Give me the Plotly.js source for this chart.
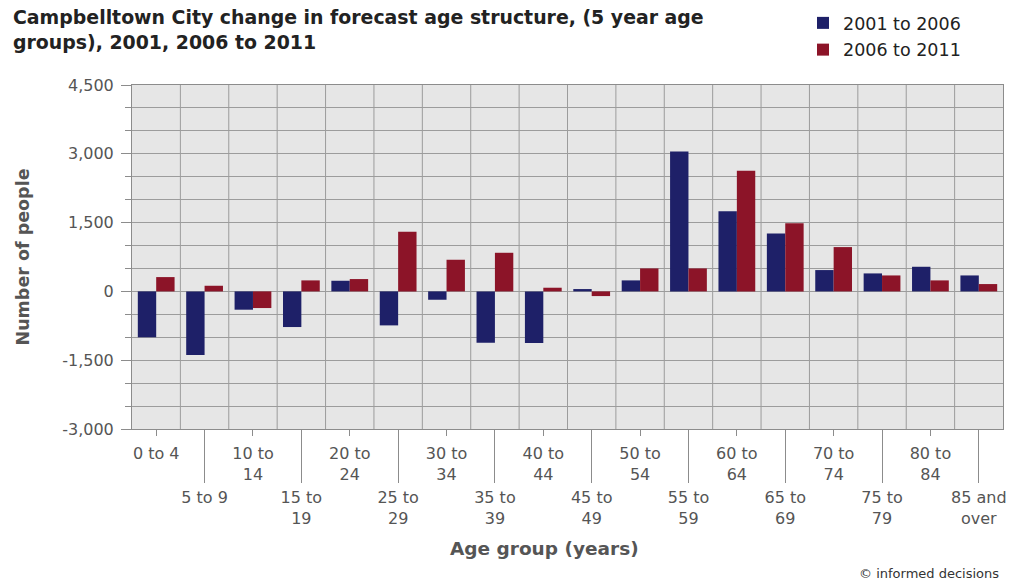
<!DOCTYPE html>
<html>
<head>
<meta charset="utf-8">
<script src="https://cdn.plot.ly/plotly-3.0.1.min.js"></script>
<style>
html,body{margin:0;padding:0;background:#fff;}
#chart{width:1021px;height:584px;}
</style>
</head>
<body>
<div id="chart"></div>
<script>
const categories = ['0 to 4','5 to 9','10 to 14','15 to 19','20 to 24','25 to 29','30 to 34','35 to 39','40 to 44','45 to 49','50 to 54','55 to 59','60 to 64','65 to 69','70 to 74','75 to 79','80 to 84','85 and over'];
const tickLabels = ['0 to 4','5 to 9','10 to<br>14','15 to<br>19','20 to<br>24','25 to<br>29','30 to<br>34','35 to<br>39','40 to<br>44','45 to<br>49','50 to<br>54','55 to<br>59','60 to<br>64','65 to<br>69','70 to<br>74','75 to<br>79','80 to<br>84','85 and<br>over'];
const change2001to2006 = [-1000,-1387,-399,-777,232,-741,-182,-1118,-1125,51,240,3049,1750,1263,465,392,537,348];
const change2006to2011 = [312,123,-363,240,269,1300,690,842,80,-102,501,501,2628,1488,966,348,240,160];
const seriesNames = ['2001 to 2006','2006 to 2011'];
const yTickVals = [-3000,-1500,0,1500,3000,4500];
const yTickText = ['-3,000','-1,500','0','1,500','3,000','4,500'];

const evenCats = categories.filter((c,i)=>i%2===0);
const oddCats = categories.filter((c,i)=>i%2===1);
const evenText = tickLabels.filter((c,i)=>i%2===0);
const oddText = tickLabels.filter((c,i)=>i%2===1);

const tickFont = {family:'DejaVu Sans', size:16, color:'#555'};
const gridCol = '#9c9c9c';
const axisCol = '#8c8c8c';
const barW = 0.38;

const traces = [
  {type:'bar', name:seriesNames[0], x:categories, y:change2001to2006, xaxis:'x', yaxis:'y',
   width:barW, offset:-barW, marker:{color:'#1e2068'}, legendgroup:'a'},
  {type:'bar', name:seriesNames[1], x:categories, y:change2006to2011, xaxis:'x2', yaxis:'y',
   width:barW, offset:0, marker:{color:'#8c1428'}, legendgroup:'b'}
];

// vertical gridlines at category boundaries
const boundaryShapes = categories.slice(0,-1).map((c,i)=>({
  type:'line', xref:'x', yref:'paper', x0:i+0.5, x1:i+0.5, y0:0, y1:1, layer:'below',
  line:{color:gridCol, width:1}
}));

const commonX = {type:'category', categoryorder:'array', categoryarray:categories, range:[-0.5, categories.length-0.5],
  showgrid:false, zeroline:false, tickfont:tickFont, tickcolor:axisCol, ticks:'outside', fixedrange:true};

const layout = {
  width:1021, height:584,
  paper_bgcolor:'#ffffff', plot_bgcolor:'#e6e6e6',
  margin:{l:132, r:18, t:85, b:155, autoexpand:false},
  barmode:'overlay',
  title:{text:'Campbelltown City change in forecast age structure, (5 year age<br>groups), 2001, 2006 to 2011',
    x:13/1021, xanchor:'left', xref:'container', y:1-24/584, yanchor:'top', yref:'container',
    font:{family:'DejaVu Sans', size:18.9, color:'#222', weight:'bold'}},
  showlegend:true,
  legend:{x:(803)/1021, xref:'container', xanchor:'left', y:1-5/584, yref:'container', yanchor:'top', orientation:'v',
    traceorder:'grouped', tracegroupgap:1,
    font:{family:'DejaVu Sans', size:17.5, color:'#222'}, bgcolor:'rgba(0,0,0,0)'},
  xaxis:Object.assign({}, commonX, {anchor:'y', tickmode:'array', tickvals:evenCats, ticktext:evenText, ticklen:6,
    ticklabelstandoff:4, showline:true, mirror:true, linecolor:axisCol, linewidth:1}),
  xaxis2:Object.assign({}, commonX, {overlaying:'x', anchor:'y', side:'bottom', tickmode:'array', tickvals:oddCats, ticktext:oddText, ticklen:53,
    ticklabelstandoff:1, showline:false}),
  yaxis:{range:[-3000,4500], tickmode:'array', tickvals:yTickVals, ticktext:yTickText, ticks:'outside', ticklen:10,
    tickcolor:axisCol, showgrid:true, gridcolor:gridCol, gridwidth:1, zeroline:true, zerolinecolor:gridCol, zerolinewidth:1,
    showline:true, mirror:true, linecolor:axisCol, tickfont:tickFont, ticklabelstandoff:4, fixedrange:true,
    minor:{dtick:500, tick0:0, showgrid:true, gridcolor:gridCol, gridwidth:1, ticks:'outside', ticklen:6, tickcolor:axisCol},
    title:{text:'Number of people', font:{family:'DejaVu Sans', size:17.5, color:'#555', weight:'bold'}, standoff:28}},
  shapes:boundaryShapes,
  annotations:[
    {text:'Age group (years)', xref:'paper', yref:'paper', x:(544-132)/871, y:(429-548)/344, xanchor:'center', yanchor:'middle',
     showarrow:false, font:{family:'DejaVu Sans', size:18.5, color:'#555', weight:'bold'}},
    {text:'© informed decisions', xref:'paper', yref:'paper', x:(1001-132)/871, y:(429-573)/344, xanchor:'right', yanchor:'middle',
     showarrow:false, font:{family:'DejaVu Sans', size:13, color:'#333'}}
  ]
};

Plotly.newPlot('chart', traces, layout, {displayModeBar:false, staticPlot:true});
</script>
</body>
</html>
